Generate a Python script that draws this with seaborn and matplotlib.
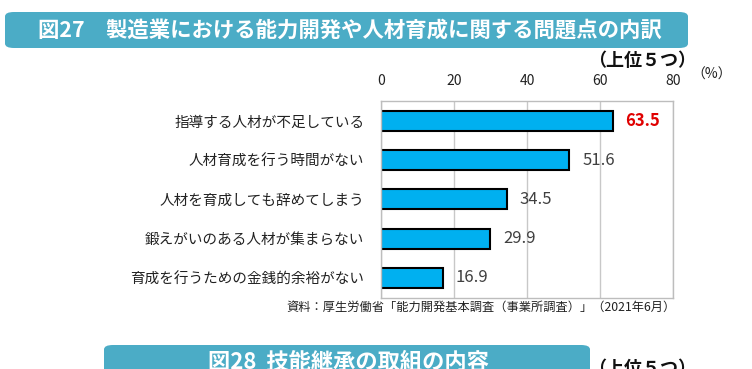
import matplotlib
matplotlib.use("Agg")
import matplotlib.pyplot as plt
from matplotlib.patches import FancyBboxPatch
import pandas as pd
import seaborn as sns

# データ
categories = ["指導する人材が不足している", "人材育成を行う時間がない", "人材を育成しても辞めてしまう",
              "鍛えがいのある人材が集まらない", "育成を行うための金銭的余裕がない"]
values = [63.5, 51.6, 34.5, 29.9, 16.9]
xticks = [0, 20, 40, 60, 80]

title = "図27　製造業における能力開発や人材育成に関する問題点の内訳"
subtitle = "（上位５つ）"
unit = "（%）"
source = "資料：厚生労働省「能力開発基本調査（事業所調査）」（2021年6月）"
next_title = "図28  技能継承の取組の内容"

sns.set_style("white")
plt.rcParams['font.family'] = ['Noto Sans CJK JP', 'DejaVu Sans']

df = pd.DataFrame({"項目": categories, "割合": values})

fig = plt.figure(figsize=(7.52, 3.69), dpi=100)
ax = fig.add_axes([0.5066, 0.1924, 0.3883, 0.534])

sns.barplot(data=df, x="割合", y="項目", orient="h", color="#00B0F0",
            edgecolor="black", linewidth=1.5, width=0.51, saturation=1, ax=ax)

ax.set_xlim(0, 80)
ax.set_ylim(4.51, -0.51)
ax.set_xticks(xticks)
ax.xaxis.tick_top()
ax.tick_params(axis="x", length=0, pad=9, labelsize=10, colors="#222222")
ax.tick_params(axis="y", length=0, pad=12, labelsize=10.5, colors="#222222")
ax.set_xlabel("")
ax.set_ylabel("")
ax.xaxis.grid(True, color="#C8C8C8", linewidth=1)
ax.set_axisbelow(True)
for s in ax.spines.values():
    s.set_color("#BDBDBD")
    s.set_linewidth(1)

for i, v in enumerate(values):
    if i == 0:
        ax.text(v + 3.5, i, f"{v:.1f}", va="center", ha="left", fontsize=12,
                color="#E00000", fontweight="bold")
    else:
        ax.text(v + 3.5, i, f"{v:.1f}", va="center", ha="left", fontsize=12,
                color="#404040")

# タイトル帯
W, H = 752, 369
def banner(x0, y0, x1, y1):
    fig.patches.append(FancyBboxPatch((x0 / W, 1 - y1 / H), (x1 - x0) / W, (y1 - y0) / H,
                                      boxstyle="round,pad=0,rounding_size=0.012",
                                      transform=fig.transFigure, facecolor="#4BACC6",
                                      edgecolor="none", zorder=0))

banner(5, 12, 688, 48)
fig.text(350 / W, 1 - 31 / H, title, ha="center", va="center", fontsize=15.4,
         color="white", fontweight="bold")
fig.text(642 / W, 1 - 61 / H, subtitle, ha="center", va="center", fontsize=13,
         color="#111111", fontweight="bold")
fig.text(712 / W, 1 - 75 / H, unit, ha="center", va="center", fontsize=10, color="#222222")
fig.text(676 / W, 1 - 307 / H, source, ha="right", va="center", fontsize=8.8, color="#222222")

banner(104, 345, 590, 400)
fig.text(348 / W, 1 - 362 / H, next_title, ha="center", va="center", fontsize=16,
         color="white", fontweight="bold")
fig.text(642 / W, 1 - 369 / H, subtitle, ha="center", va="center", fontsize=13,
         color="#111111", fontweight="bold")

fig.savefig("out.png", dpi=100)
